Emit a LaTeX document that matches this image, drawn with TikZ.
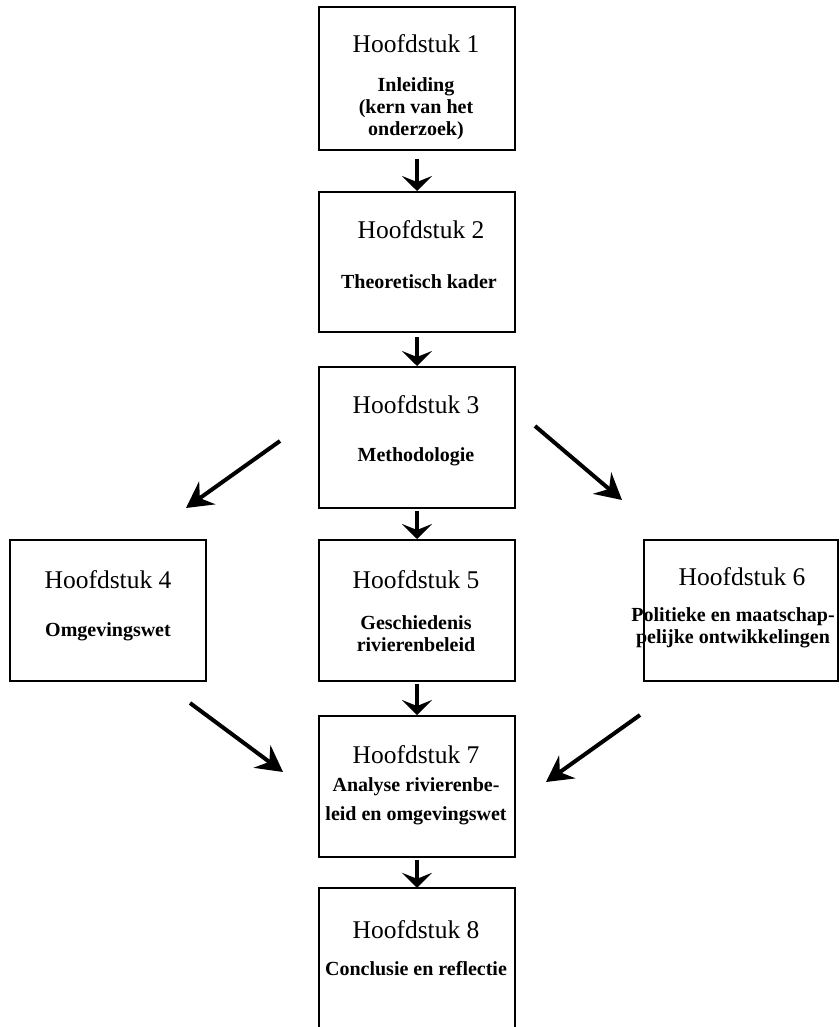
\documentclass[tikz,border=0pt]{standalone}
\usepackage{fontspec}
\setmainfont{Liberation Serif}
\usetikzlibrary{arrows.meta}
\tikzset{
  chbox/.style={draw=black, line width=2pt, minimum width=196pt, inner sep=0pt},
  ttl/.style={anchor=base, inner sep=0pt, font=\fontsize{25.5}{28}\selectfont},
  sub/.style={anchor=base, inner sep=0pt, font=\fontsize{20}{22}\selectfont\bfseries},
  varr/.style={line width=3.5pt, -{Stealth[length=15pt,width=30pt,inset=6pt]}},
  darr/.style={line width=4pt, -{Stealth[length=26pt,width=28pt,inset=9pt]}}
}
\begin{document}
\begin{tikzpicture}[x=1pt,y=-1pt]
\useasboundingbox (0,0) rectangle (839,1027);
% boxes
\node[chbox, minimum height=143pt] (b1) at (417,78.5) {};
\node[chbox, minimum height=140pt] (b2) at (417,262) {};
\node[chbox, minimum height=141pt] (b3) at (417,437.5) {};
\node[chbox, minimum height=141pt] (b4) at (108,610.5) {};
\node[chbox, minimum height=141pt] (b5) at (417,610.5) {};
\node[chbox, minimum height=141pt, minimum width=194pt] (b6) at (741,610.5) {};
\node[chbox, minimum height=141pt] (b7) at (417,786.5) {};
\node[minimum width=196pt, minimum height=150pt, inner sep=0pt] (b8) at (417,963) {};
\draw[line width=2pt] (b8.south west) -- (b8.north west) -- (b8.north east) -- (b8.south east);
% texts
\node[ttl] (t1) at (416,53) {Hoofdstuk 1};
\node[sub] (s1a) at (416,92) {Inleiding};
\node[sub] (s1b) at (416,114) {(kern van het};
\node[sub] (s1c) at (416,136) {onderzoek)};
\node[ttl] (t2) at (421,238) {Hoofdstuk 2};
\node[sub] (s2) at (419,288) {Theoretisch kader};
\node[ttl] (t3) at (416,413) {Hoofdstuk 3};
\node[sub] (s3) at (416,461) {Methodologie};
\node[ttl] (t4) at (108,588) {Hoofdstuk 4};
\node[sub] (s4) at (108,636) {Omgevingswet};
\node[ttl] (t5) at (416,588) {Hoofdstuk 5};
\node[sub] (s5a) at (416,629) {Geschiedenis};
\node[sub] (s5b) at (416,651) {rivierenbeleid};
\node[ttl] (t6) at (742,585) {Hoofdstuk 6};
\node[sub] (s6a) at (733,621) {Politieke en maatschap-};
\node[sub] (s6b) at (733,643) {pelijke ontwikkelingen};
\node[ttl] (t7) at (416,763) {Hoofdstuk 7};
\node[sub] (s7a) at (416,791) {Analyse rivierenbe-};
\node[sub] (s7b) at (416,820) {leid en omgevingswet};
\node[ttl] (t8) at (416,938) {Hoofdstuk 8};
\node[sub] (s8) at (416,975) {Conclusie en reflectie};
% vertical arrows
\draw[varr, shorten <=8pt] (b1.south) -- (b2.north);
\draw[varr, shorten <=4pt] (b2.south) -- (b3.north);
\draw[varr, shorten <=2pt] (b3.south) -- (b5.north);
\draw[varr, shorten <=2pt] (b5.south) -- (b7.north);
\draw[varr, shorten <=2pt] (b7.south) -- (b8.north);
% diagonal arrows
\coordinate (d1s) at (280,441);
\coordinate (d1e) at (186,508);
\coordinate (d2s) at (535,426);
\coordinate (d2e) at (622,500);
\coordinate (d3s) at (190,703);
\coordinate (d3e) at (283,772);
\coordinate (d4s) at (640,715);
\coordinate (d4e) at (546,782);
\draw[darr] (d1s) -- (d1e);
\draw[darr] (d2s) -- (d2e);
\draw[darr] (d3s) -- (d3e);
\draw[darr] (d4s) -- (d4e);
\end{tikzpicture}
\end{document}
